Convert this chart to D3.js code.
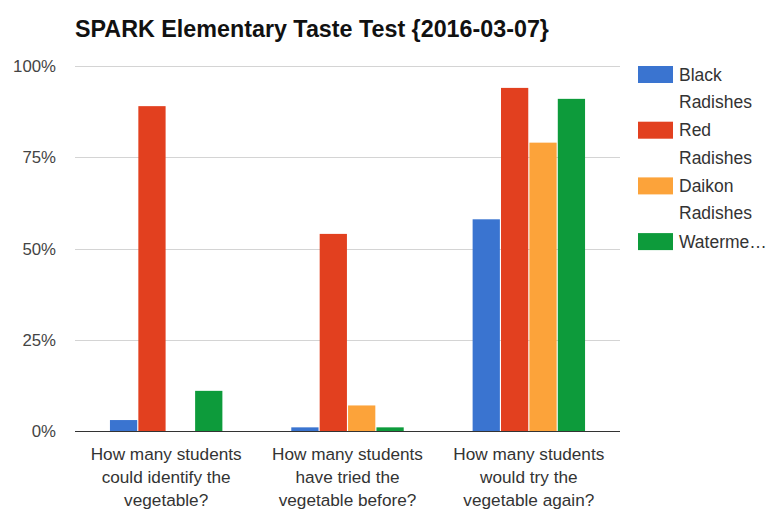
<!DOCTYPE html>
<html>
<head>
<meta charset="utf-8">
<script src="https://cdn.jsdelivr.net/npm/d3@7"></script>
<style>
  body { margin: 0; background: #fff; }
  svg { display: block; font-family: "Liberation Sans", Arial, sans-serif; }
  .grid line { stroke: #d4d4d4; stroke-width: 1; }
  .tick-label { fill: #444; font-size: 16.8px; }
  .cat-label { fill: #333; font-size: 17.2px; }
  .legend text { fill: #333; font-size: 17.5px; }
</style>
</head>
<body>
<svg id="chart" width="770" height="515"></svg>
<script>
var categories = [
  ["How many students", "could identify the", "vegetable?"],
  ["How many students", "have tried the", "vegetable before?"],
  ["How many students", "would try the", "vegetable again?"]
];
var seriesNames = ["Black Radishes", "Red Radishes", "Daikon Radishes", "Watermelon Radishes"];
var legendLines = [["Black", "Radishes"], ["Red", "Radishes"], ["Daikon", "Radishes"], ["Waterme\u2026"]];
var seriesColors = ["#3a74d0", "#e2401f", "#fca33a", "#0d9b3b"];
// percent per category, one array per series
var blackRadishes = [3, 1, 58];
var redRadishes = [89, 54, 94];
var daikonRadishes = [0, 7, 79];
var watermelonRadishes = [11, 1, 91];
var yTicks = [0, 25, 50, 75, 100];

var seriesValues = [blackRadishes, redRadishes, daikonRadishes, watermelonRadishes];

var svg = d3.select("#chart");

var x0 = d3.scaleBand()
  .domain(d3.range(categories.length))
  .range([75.5, 619.5])
  .paddingInner(0.38)
  .paddingOuter(0.19);

var x1 = d3.scaleBand()
  .domain(d3.range(seriesNames.length))
  .range([0, x0.bandwidth()])
  .paddingInner(0.04);

var y = d3.scaleLinear().domain([0, 100]).range([431, 66]);

// title
svg.append("text")
  .attr("x", 75).attr("y", 37)
  .style("font-size", "23.3px").style("font-weight", "bold").style("fill", "#111")
  .text("SPARK Elementary Taste Test {2016-03-07}");

// grid
var grid = svg.append("g").classed("grid", true);
grid.selectAll("line").data(yTicks.filter(function(d) { return d > 0; }))
  .enter().append("line")
  .attr("x1", 75).attr("x2", 620)
  .attr("y1", function(d) { return Math.round(y(d)) + 0.5; })
  .attr("y2", function(d) { return Math.round(y(d)) + 0.5; });

svg.append("g").selectAll("text").data(yTicks)
  .enter().append("text")
  .classed("tick-label", true)
  .attr("x", 56)
  .attr("y", function(d) { return y(d) + 6; })
  .attr("text-anchor", "end")
  .text(function(d) { return d + "%"; });

// bars
var groups = svg.append("g").selectAll("g").data(seriesValues)
  .enter().append("g")
  .attr("fill", function(d, i) { return seriesColors[i]; });

groups.each(function(vals, si) {
  d3.select(this).selectAll("rect").data(vals)
    .enter().append("rect")
    .attr("x", function(d, ci) { return x0(ci) + x1(si); })
    .attr("width", x1.bandwidth())
    .attr("y", function(d) { return y(d); })
    .attr("height", function(d) { return y(0) - y(d); });
});

// baseline
svg.append("line")
  .attr("x1", 75).attr("x2", 620)
  .attr("y1", 431.5).attr("y2", 431.5)
  .attr("stroke", "#333").attr("stroke-width", 1.2);

// category labels
var cats = svg.append("g").selectAll("text").data(categories)
  .enter().append("text")
  .classed("cat-label", true)
  .attr("text-anchor", "middle")
  .attr("x", function(d, i) { return x0(i) + x0.bandwidth() / 2; })
  .attr("y", 460);

cats.selectAll("tspan").data(function(d) { return d; })
  .enter().append("tspan")
  .attr("x", function() { return d3.select(this.parentNode).attr("x"); })
  .attr("dy", function(d, i) { return i ? 23 : 0; })
  .text(function(d) { return d; });

// legend
var legend = svg.append("g").classed("legend", true)
  .selectAll("g").data(seriesNames)
  .enter().append("g")
  .attr("transform", function(d, i) { return "translate(638," + (66 + i * 55.7) + ")"; });

legend.append("rect")
  .attr("width", 35).attr("height", 17)
  .attr("fill", function(d, i) { return seriesColors[i]; });

legend.append("text")
  .attr("x", 41).attr("y", 14.5)
  .selectAll("tspan").data(function(d, i) { return legendLines[i]; })
  .enter().append("tspan")
  .attr("x", 41)
  .attr("dy", function(d, i) { return i ? 27.5 : 0; })
  .text(function(d) { return d; });
</script>
</body>
</html>
